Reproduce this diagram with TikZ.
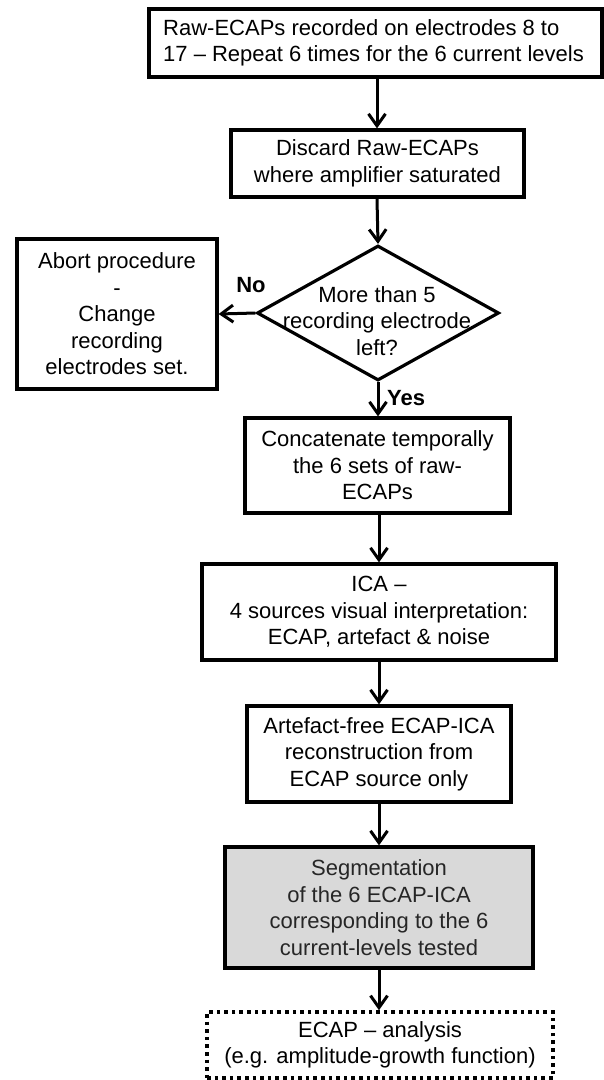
\documentclass[tikz,border=0pt]{standalone}
\usepackage{fontspec}
\setmainfont{Liberation Sans}
\usetikzlibrary{arrows.meta,shapes.geometric}
\begin{document}
\begin{tikzpicture}[x=1pt,y=-1pt,
  every node/.style={font=\fontsize{22pt}{26.5pt}\selectfont},
  box/.style={draw=black, line width=3.2pt, align=center, inner sep=0pt, fill=white},
  graybox/.style={box, fill=black!15, text=black!85},
  dotbox/.style={box, line width=3.6pt, dash pattern=on 3.6pt off 4pt},
  arr/.style={line width=3pt, -{Straight Barb[length=12pt,width=17pt]}},
  lbl/.style={font=\fontsize{22pt}{26pt}\selectfont\bfseries, inner sep=0pt}
]
\useasboundingbox (0,0) rectangle (604,1080);

\node[box, minimum width=453pt, minimum height=68pt] (b1) at (375.5,43) {};
\node[align=left, inner sep=0pt, anchor=west] (b1t) at (163,43)
  {Raw-ECAPs recorded on electrodes 8 to\\17 -- Repeat 6 times for the 6 current levels};
\node[box, minimum width=293pt, minimum height=67pt] (b2) at (377.5,163.5)
  {Discard Raw-ECAPs\\where amplifier saturated};
\node[draw=black, line width=3.2pt, diamond, minimum width=242pt, minimum height=135pt, inner sep=0pt] (dec) at (378,313) {};
\node[align=center, inner sep=0pt] (dect) at (377,321) {More than 5\\recording electrode\\left?};
\node[box, minimum width=200pt, minimum height=150pt] (ab) at (117,314)
  {Abort procedure\\-\\Change\\recording\\electrodes set.};
\node[box, minimum width=265pt, minimum height=95pt] (b3) at (377.5,465.5)
  {Concatenate temporally\\the 6 sets of raw-\\ECAPs};
\node[box, minimum width=354pt, minimum height=96pt] (b4) at (379,612)
  {ICA --\\4 sources visual interpretation:\\ECAP, artefact \& noise};
\node[box, minimum width=264pt, minimum height=96pt] (b5) at (379,754)
  {Artefact-free ECAP-ICA\\reconstruction from\\ECAP source only};
\node[graybox, minimum width=308pt, minimum height=121pt] (b6) at (379,907.5)
  {Segmentation\\of the 6 ECAP-ICA\\corresponding to the 6\\current-levels tested};
\node[dotbox, minimum width=346pt, minimum height=66pt] (b7) at (380,1045)
  {ECAP -- analysis\\(e.g. amplitude-growth function)};

\draw[arr] (b1.south -| 377,0) -- (b2.north -| 377,0);
\draw[arr] (b2.south -| 377,0) -- (dec.north);
\draw[arr] (dec.west) -- (ab.east);
\draw[arr] (dec.south) -- (b3.north -| dec.south);
\draw[arr] (b3.south -| 379,0) -- (b4.north -| 379,0);
\draw[arr] (b4.south -| 379,0) -- (b5.north -| 379,0);
\draw[arr] (b5.south -| 379,0) -- (b6.north -| 379,0);
\draw[arr] (b6.south -| 379,0) -- (b7.north -| 379,0);

\node[lbl] (no) at (251,285) {No};
\node[lbl, anchor=west] (yes) at (387,398) {Yes};
\end{tikzpicture}
\end{document}
